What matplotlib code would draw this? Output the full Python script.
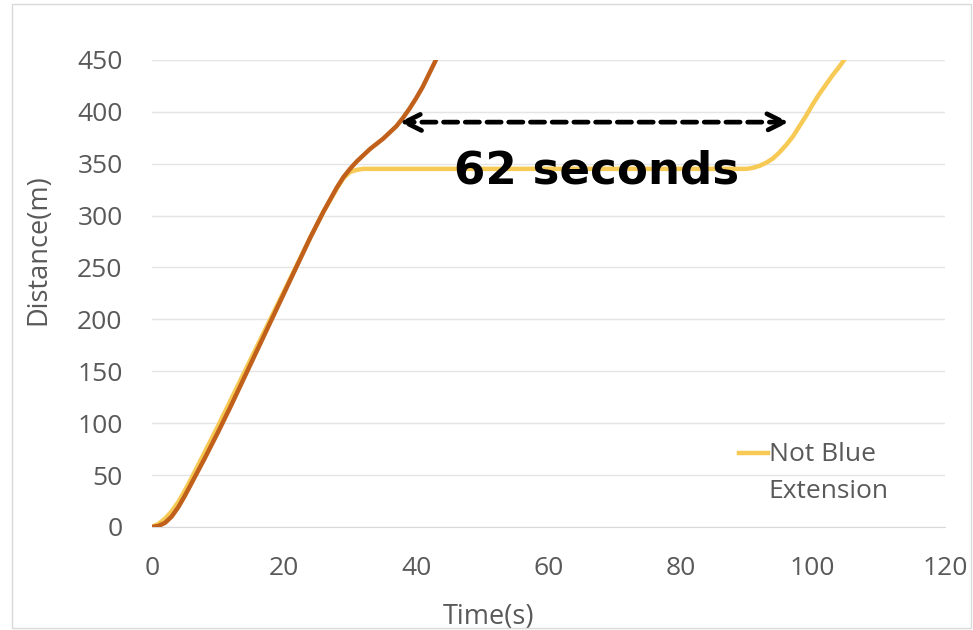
import matplotlib.pyplot as plt
from matplotlib.patches import Rectangle

# series (time in s, distance in m)
blue_t = [0, 1, 2, 3, 4, 5, 6, 8, 10, 12, 14, 16, 18, 20, 22, 24, 26, 28, 29, 30,
          31, 32, 33, 34, 35, 36, 37, 38, 39, 40, 41, 42, 43]
blue_d = [0, 1, 4, 10, 19, 30, 42, 66, 91, 117, 144, 171, 198, 225, 252, 279, 304, 327, 337, 345,
          352, 358, 364, 369, 374, 380, 386, 394, 403, 413, 424, 437, 450]

notblue_t = [0, 1, 2, 3, 4, 5, 6, 8, 10, 12, 14, 16, 18, 20, 22, 24, 26, 28, 29, 30,
             31, 32, 90, 91, 92, 93, 94, 95, 96, 97, 98, 99, 100, 101, 102, 103, 104, 105]
notblue_d = [0, 3, 8, 15, 24, 35, 47, 72, 97, 123, 149, 175, 201, 227, 253, 279, 304, 326, 336, 342,
             344, 345, 345, 346, 348, 351, 355, 361, 368, 376, 386, 396, 407, 417, 426, 435, 443, 452]

x_ticks = [0, 20, 40, 60, 80, 100, 120]
y_ticks = [0, 50, 100, 150, 200, 250, 300, 350, 400, 450]

gap_start, gap_end, gap_level = 37.5, 96.4, 390
gap_text = "62 seconds"

plt.rcParams['font.family'] = ['Open Sans', 'DejaVu Sans']
grey = '#595959'

fig = plt.figure(figsize=(9.73, 6.30), dpi=100)
ax = fig.add_axes([0.156, 0.1635, 0.815, 0.7415])

ax.plot(notblue_t, notblue_d, color='#F7C955', lw=3.2, solid_capstyle='round', zorder=3)
ax.plot(blue_t, blue_d, color='#C0601A', lw=3.2, solid_capstyle='round', zorder=4)

ax.set_xlim(0, 120)
ax.set_ylim(0, 450)
ax.set_xticks(x_ticks)
ax.set_yticks(y_ticks)
ax.grid(axis='y', color='#e4e4e4', lw=1)
ax.set_axisbelow(True)
for side in ['top', 'right', 'left']:
    ax.spines[side].set_visible(False)
ax.spines['bottom'].set_color('#d9d9d9')
ax.tick_params(length=0, labelsize=19, labelcolor=grey)
ax.tick_params(axis='x', pad=21)
ax.tick_params(axis='y', pad=21)

ax.set_xlabel('Time(s)', fontsize=19.5, color=grey)
ax.set_ylabel('Distance(m)', fontsize=19.5, color=grey)
ax.xaxis.set_label_coords(0.425, -0.163)
ax.yaxis.set_label_coords(-0.125, 0.593)

# the gap between the two curves
ax.annotate('', xy=(gap_start, gap_level), xytext=(gap_end, gap_level),
            arrowprops=dict(arrowstyle='<->', color='black', lw=3.4, linestyle=(0, (3, 1.6)),
                            mutation_scale=30, shrinkA=0, shrinkB=0), zorder=5)
ax.text(67.3, 343, gap_text, fontsize=32.5, fontweight='bold', ha='center', va='center',
        family=['DejaVu Sans'], zorder=6)

# legend (only the yellow series is listed, label wraps onto two lines)
ax.plot([0.741, 0.777], [0.158, 0.158], color='#F7C955', lw=3.2, transform=ax.transAxes,
        clip_on=False)
ax.text(0.778, 0.156, 'Not Blue', fontsize=19, color=grey, va='center', ha='left',
        transform=ax.transAxes)
ax.text(0.778, 0.075, 'Extension', fontsize=19, color=grey, va='center', ha='left',
        transform=ax.transAxes)

fig.patches.append(Rectangle((0.012, 0.003), 0.986, 0.99, transform=fig.transFigure,
                             fill=False, edgecolor='#d9d9d9', lw=1))

fig.savefig('out.png', dpi=100)
